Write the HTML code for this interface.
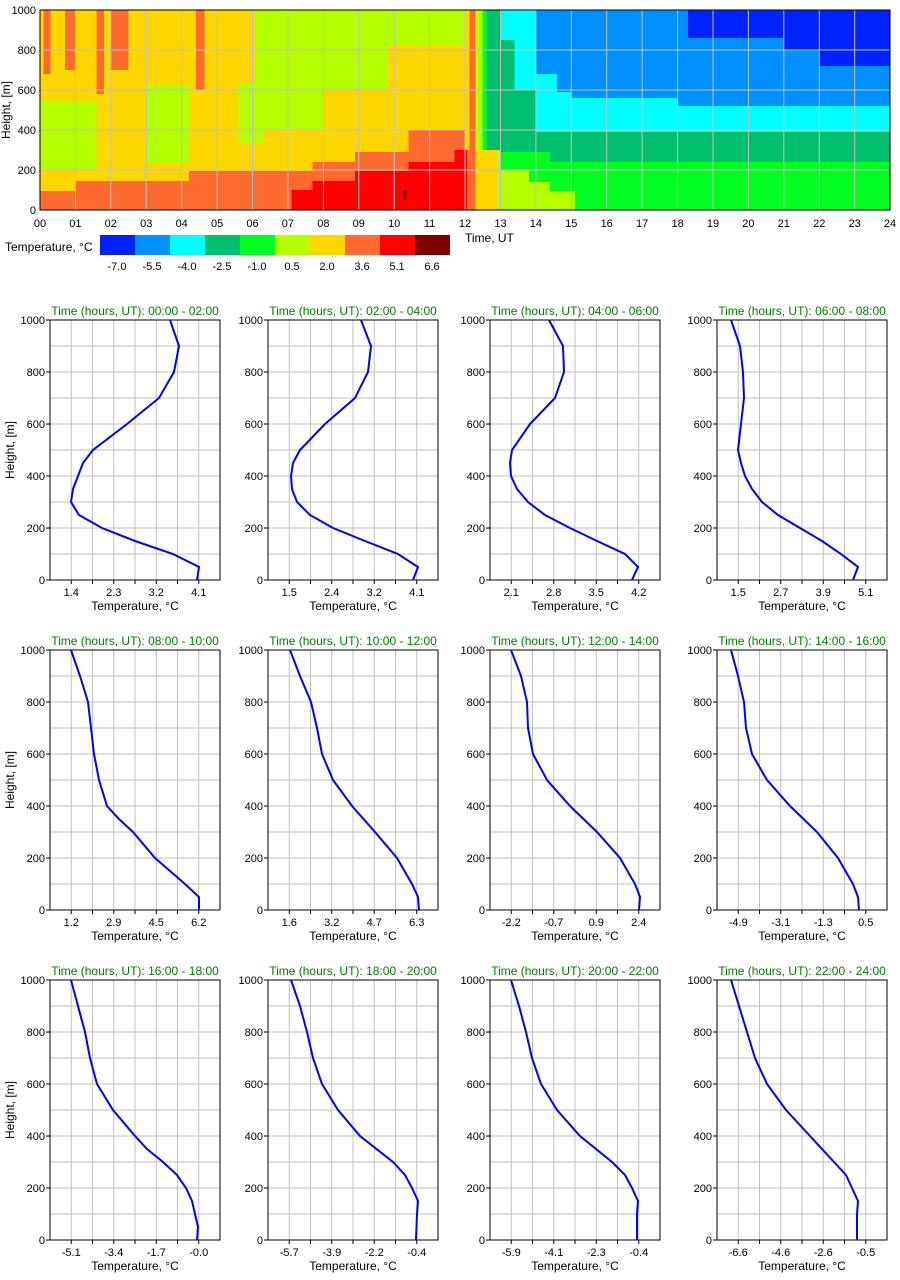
<!DOCTYPE html>
<html><head><meta charset="utf-8"><style>
html,body{margin:0;padding:0;background:#fff;}
svg{display:block;font-family:"Liberation Sans",sans-serif;}
.g{stroke:#c0c0c0;stroke-width:1;fill:none}
.t{font-size:11px;fill:#000}
.ttl{font-size:12px;fill:#008000}
</style></head><body>
<svg width="900" height="1280" viewBox="0 0 900 1280" xmlns="http://www.w3.org/2000/svg">
<g transform="translate(40,210) scale(35.4167,-0.2)" shape-rendering="crispEdges">
<rect x="0" y="0" width="24" height="1000" fill="#ffd700"/>
<rect x="0" y="200" width="1.6" height="340" fill="#b4ff00"/>
<rect x="3" y="230" width="1.2" height="390" fill="#b4ff00"/>
<rect x="5.6" y="330" width="0.7" height="300" fill="#b4ff00"/>
<rect x="6.1" y="400" width="1.9" height="600" fill="#b4ff00"/>
<rect x="8" y="600" width="1.8" height="400" fill="#b4ff00"/>
<rect x="9.8" y="820" width="2.2" height="180" fill="#b4ff00"/>
<rect x="0" y="0" width="1" height="95" fill="#ff6a30"/>
<rect x="1" y="0" width="3.2" height="145" fill="#ff6a30"/>
<rect x="4.2" y="0" width="3.5" height="195" fill="#ff6a30"/>
<rect x="7.7" y="0" width="1.2" height="240" fill="#ff6a30"/>
<rect x="8.9" y="0" width="1.5" height="290" fill="#ff6a30"/>
<rect x="10.4" y="0" width="1.6" height="400" fill="#ff6a30"/>
<rect x="0.1" y="680" width="0.2" height="320" fill="#ff6a30"/>
<rect x="0.7" y="700" width="0.3" height="300" fill="#ff6a30"/>
<rect x="1.6" y="580" width="0.2" height="420" fill="#ff6a30"/>
<rect x="2" y="700" width="0.5" height="300" fill="#ff6a30"/>
<rect x="4.4" y="600" width="0.25" height="400" fill="#ff6a30"/>
<rect x="7.1" y="0" width="0.6" height="100" fill="#ff0000"/>
<rect x="7.7" y="0" width="1.2" height="145" fill="#ff0000"/>
<rect x="8.9" y="0" width="1.5" height="195" fill="#ff0000"/>
<rect x="10.4" y="0" width="1.5" height="240" fill="#ff0000"/>
<rect x="11.7" y="0" width="0.3" height="300" fill="#ff0000"/>
<rect x="10.25" y="50" width="0.1" height="50" fill="#800000"/>
<rect x="12" y="0" width="0.3" height="1000" fill="#ff6a30"/>
<rect x="12" y="300" width="0.12" height="700" fill="#ffd700"/>
<rect x="12" y="0" width="0.05" height="300" fill="#ff0000"/>
<rect x="12.3" y="0" width="0.7" height="1000" fill="#b4ff00"/>
<rect x="12.3" y="0" width="0.6" height="300" fill="#ffd700"/>
<rect x="12.55" y="300" width="0.45" height="700" fill="#00c070"/>
<rect x="12.5" y="300" width="0.1" height="700" fill="#00ff20"/>
<rect x="13" y="0" width="11" height="300" fill="#00ff20"/>
<rect x="13" y="290" width="1.4" height="710" fill="#00c070"/>
<rect x="14.4" y="240" width="9.6" height="150" fill="#00c070"/>
<rect x="13" y="850" width="0.4" height="150" fill="#00ffff"/>
<rect x="13.4" y="600" width="0.6" height="400" fill="#00ffff"/>
<rect x="14" y="390" width="1" height="610" fill="#00ffff"/>
<rect x="15" y="390" width="9" height="170" fill="#00ffff"/>
<rect x="14" y="680" width="1" height="320" fill="#0090ff"/>
<rect x="14.6" y="590" width="0.4" height="410" fill="#0090ff"/>
<rect x="15" y="560" width="3" height="440" fill="#0090ff"/>
<rect x="18" y="520" width="6" height="480" fill="#0090ff"/>
<rect x="18.3" y="860" width="2.7" height="140" fill="#0022ff"/>
<rect x="21" y="800" width="1" height="200" fill="#0022ff"/>
<rect x="22" y="720" width="2" height="280" fill="#0022ff"/>
<rect x="12.9" y="0" width="0.9" height="200" fill="#b4ff00"/>
<rect x="13.8" y="0" width="0.6" height="140" fill="#b4ff00"/>
<rect x="14.4" y="0" width="0.7" height="95" fill="#b4ff00"/>
</g>
<g class="g">
<path d="M75.4 10V210M110.8 10V210M146.3 10V210M181.7 10V210M217.1 10V210M252.5 10V210M287.9 10V210M323.4 10V210M358.8 10V210M394.2 10V210M429.6 10V210M465 10V210M500.5 10V210M535.9 10V210M571.3 10V210M606.7 10V210M642.1 10V210M677.6 10V210M713 10V210M748.4 10V210M783.8 10V210M819.3 10V210M854.7 10V210M40 50H890M40 90H890M40 130H890M40 170H890"/>
</g>
<rect x="40" y="10" width="850" height="200" fill="none" stroke="#000"/>
<g class="t" text-anchor="end">
<text x="36" y="214">0</text><text x="36" y="174">200</text><text x="36" y="134">400</text><text x="36" y="94">600</text><text x="36" y="54">800</text><text x="36" y="14">1000</text>
</g>
<text transform="translate(10,110) rotate(-90)" text-anchor="middle" font-size="12">Height, [m]</text>
<g class="t" text-anchor="middle">
<text x="40" y="227">00</text><text x="75.4" y="227">01</text><text x="110.8" y="227">02</text><text x="146.3" y="227">03</text><text x="181.7" y="227">04</text><text x="217.1" y="227">05</text><text x="252.5" y="227">06</text><text x="287.9" y="227">07</text><text x="323.4" y="227">08</text><text x="358.8" y="227">09</text><text x="394.2" y="227">10</text><text x="429.6" y="227">11</text><text x="465" y="227">12</text><text x="500.5" y="227">13</text><text x="535.9" y="227">14</text><text x="571.3" y="227">15</text><text x="606.7" y="227">16</text><text x="642.1" y="227">17</text><text x="677.6" y="227">18</text><text x="713" y="227">19</text><text x="748.4" y="227">20</text><text x="783.8" y="227">21</text><text x="819.3" y="227">22</text><text x="854.7" y="227">23</text><text x="890" y="227">24</text>
</g>
<text x="465" y="242" font-size="12">Time, UT</text>
<text x="5" y="251" font-size="12">Temperature, °C</text>
<g shape-rendering="crispEdges">
<rect x="100" y="235" width="35" height="20" fill="#0022ff"/><rect x="135" y="235" width="35" height="20" fill="#0090ff"/><rect x="170" y="235" width="35" height="20" fill="#00ffff"/><rect x="205" y="235" width="35" height="20" fill="#00c070"/><rect x="240" y="235" width="35" height="20" fill="#00ff20"/><rect x="275" y="235" width="35" height="20" fill="#b4ff00"/><rect x="310" y="235" width="35" height="20" fill="#ffd700"/><rect x="345" y="235" width="35" height="20" fill="#ff6a30"/><rect x="380" y="235" width="35" height="20" fill="#ff0000"/><rect x="415" y="235" width="35" height="20" fill="#800000"/>
</g>
<g class="t" text-anchor="middle" font-size="12">
<text x="117" y="270">-7.0</text><text x="152" y="270">-5.5</text><text x="187" y="270">-4.0</text><text x="222" y="270">-2.5</text><text x="257" y="270">-1.0</text><text x="292" y="270">0.5</text><text x="327" y="270">2.0</text><text x="362" y="270">3.6</text><text x="397" y="270">5.1</text><text x="432" y="270">6.6</text>
</g>

<defs>
<g id="grid">
<path class="g" d="M21.25 0V260M42.5 0V260M63.75 0V260M85 0V260M106.25 0V260M127.5 0V260M148.75 0V260M0 26H170M0 52H170M0 78H170M0 104H170M0 130H170M0 156H170M0 182H170M0 208H170M0 234H170"/>
<rect x="0" y="0" width="170" height="260" fill="none" stroke="#000"/>
<path d="M21.25 260v4M63.75 260v4M106.25 260v4M148.75 260v4M42.5 260v4M85 260v4M127.5 260v4M0 260h-4M0 208h-4M0 156h-4M0 104h-4M0 52h-4M0 0h-4" stroke="#000"/>
<g class="t" text-anchor="end">
<text x="-5" y="264">0</text><text x="-5" y="212">200</text><text x="-5" y="160">400</text><text x="-5" y="108">600</text><text x="-5" y="56">800</text><text x="-5" y="4">1000</text>
</g>
<text x="85" y="290" text-anchor="middle" font-size="12">Temperature, °C</text>
</g>
</defs>

<g transform="translate(50,320)"><use href="#grid"/><text class="ttl" x="85" y="-5" text-anchor="middle">Time (hours, UT): 00:00 - 02:00</text>
<g class="t" text-anchor="middle"><text x="21.25" y="276">1.4</text><text x="63.75" y="276">2.3</text><text x="106.25" y="276">3.2</text><text x="148.75" y="276">4.1</text></g>
<polyline fill="none" stroke="#0000ff" stroke-width="2" points="120,0 129,26 124,52 109,78 77,104 43,130 33,143 23,169 21,182 29,195 52,208 85,221 123,234 149,247 147,260"/></g>
<g transform="translate(268,320)"><use href="#grid"/><text class="ttl" x="85" y="-5" text-anchor="middle">Time (hours, UT): 02:00 - 04:00</text>
<g class="t" text-anchor="middle"><text x="21.25" y="276">1.5</text><text x="63.75" y="276">2.4</text><text x="106.25" y="276">3.2</text><text x="148.75" y="276">4.1</text></g>
<polyline fill="none" stroke="#0000ff" stroke-width="2" points="93,0 103,26 100,52 87,78 57,104 32,130 25,143 23,156 24,169 29,182 42,195 65,208 97,221 130,234 150,247 145,260"/></g>
<g transform="translate(490,320)"><use href="#grid"/><text class="ttl" x="85" y="-5" text-anchor="middle">Time (hours, UT): 04:00 - 06:00</text>
<g class="t" text-anchor="middle"><text x="21.25" y="276">2.1</text><text x="63.75" y="276">2.8</text><text x="106.25" y="276">3.5</text><text x="148.75" y="276">4.2</text></g>
<polyline fill="none" stroke="#0000ff" stroke-width="2" points="59,0 73,26 74,52 65,78 40,104 22,130 20,143 21,156 27,169 38,182 55,195 80,208 107,221 135,234 148,247 142,260"/></g>
<g transform="translate(717,320)"><use href="#grid"/><text class="ttl" x="85" y="-5" text-anchor="middle">Time (hours, UT): 06:00 - 08:00</text>
<g class="t" text-anchor="middle"><text x="21.25" y="276">1.5</text><text x="63.75" y="276">2.7</text><text x="106.25" y="276">3.9</text><text x="148.75" y="276">5.1</text></g>
<polyline fill="none" stroke="#0000ff" stroke-width="2" points="14,0 23,26 26,52 27,78 24,104 21,130 24,143 28,156 35,169 45,182 61,195 83,208 105,221 124,234 141,247 136,260"/></g>

<g transform="translate(50,650)"><use href="#grid"/><text class="ttl" x="85" y="-5" text-anchor="middle">Time (hours, UT): 08:00 - 10:00</text>
<g class="t" text-anchor="middle"><text x="21.25" y="276">1.2</text><text x="63.75" y="276">2.9</text><text x="106.25" y="276">4.5</text><text x="148.75" y="276">6.2</text></g>
<polyline fill="none" stroke="#0000ff" stroke-width="2" points="21,0 30,26 38,52 41,78 44,104 49,130 57,156 69,169 83,182 105,208 135,234 149,247 149,260"/></g>
<g transform="translate(268,650)"><use href="#grid"/><text class="ttl" x="85" y="-5" text-anchor="middle">Time (hours, UT): 10:00 - 12:00</text>
<g class="t" text-anchor="middle"><text x="21.25" y="276">1.6</text><text x="63.75" y="276">3.2</text><text x="106.25" y="276">4.7</text><text x="148.75" y="276">6.3</text></g>
<polyline fill="none" stroke="#0000ff" stroke-width="2" points="22,0 32,26 43,52 49,78 54,104 65,130 84,156 107,182 129,208 144,234 150,247 151,260"/></g>
<g transform="translate(490,650)"><use href="#grid"/><text class="ttl" x="85" y="-5" text-anchor="middle">Time (hours, UT): 12:00 - 14:00</text>
<g class="t" text-anchor="middle"><text x="21.25" y="276">-2.2</text><text x="63.75" y="276">-0.7</text><text x="106.25" y="276">0.9</text><text x="148.75" y="276">2.4</text></g>
<polyline fill="none" stroke="#0000ff" stroke-width="2" points="21,0 31,26 37,52 38,78 43,104 57,130 80,156 107,182 130,208 145,234 150,247 149,260"/></g>
<g transform="translate(717,650)"><use href="#grid"/><text class="ttl" x="85" y="-5" text-anchor="middle">Time (hours, UT): 14:00 - 16:00</text>
<g class="t" text-anchor="middle"><text x="21.25" y="276">-4.9</text><text x="63.75" y="276">-3.1</text><text x="106.25" y="276">-1.3</text><text x="148.75" y="276">0.5</text></g>
<polyline fill="none" stroke="#0000ff" stroke-width="2" points="14,0 21,26 27,52 29,78 35,104 50,130 73,156 100,182 121,208 136,234 141,247 142,260"/></g>

<g transform="translate(50,980)"><use href="#grid"/><text class="ttl" x="85" y="-5" text-anchor="middle">Time (hours, UT): 16:00 - 18:00</text>
<g class="t" text-anchor="middle"><text x="21.25" y="276">-5.1</text><text x="63.75" y="276">-3.4</text><text x="106.25" y="276">-1.7</text><text x="148.75" y="276">-0.0</text></g>
<polyline fill="none" stroke="#0000ff" stroke-width="2" points="21,0 28,26 35,52 40,78 47,104 63,130 85,156 97,169 113,182 127,195 136,208 142,221 145,234 148,247 147,260"/></g>
<g transform="translate(268,980)"><use href="#grid"/><text class="ttl" x="85" y="-5" text-anchor="middle">Time (hours, UT): 18:00 - 20:00</text>
<g class="t" text-anchor="middle"><text x="21.25" y="276">-5.7</text><text x="63.75" y="276">-3.9</text><text x="106.25" y="276">-2.2</text><text x="148.75" y="276">-0.4</text></g>
<polyline fill="none" stroke="#0000ff" stroke-width="2" points="23,0 32,26 39,52 45,78 54,104 70,130 92,156 125,182 137,195 144,208 150,221 149,234 148,260"/></g>
<g transform="translate(490,980)"><use href="#grid"/><text class="ttl" x="85" y="-5" text-anchor="middle">Time (hours, UT): 20:00 - 22:00</text>
<g class="t" text-anchor="middle"><text x="21.25" y="276">-5.9</text><text x="63.75" y="276">-4.1</text><text x="106.25" y="276">-2.3</text><text x="148.75" y="276">-0.4</text></g>
<polyline fill="none" stroke="#0000ff" stroke-width="2" points="21,0 29,26 36,52 42,78 51,104 67,130 90,156 122,182 135,195 142,208 148,221 147,234 147,260"/></g>
<g transform="translate(717,980)"><use href="#grid"/><text class="ttl" x="85" y="-5" text-anchor="middle">Time (hours, UT): 22:00 - 24:00</text>
<g class="t" text-anchor="middle"><text x="21.25" y="276">-6.6</text><text x="63.75" y="276">-4.6</text><text x="106.25" y="276">-2.6</text><text x="148.75" y="276">-0.5</text></g>
<polyline fill="none" stroke="#0000ff" stroke-width="2" points="14,0 22,26 30,52 38,78 50,104 69,130 93,156 117,182 129,195 135,208 141,221 140,234 140,260"/></g>

<g font-size="12" text-anchor="middle">
<text transform="translate(14,450) rotate(-90)">Height, [m]</text>
<text transform="translate(14,780) rotate(-90)">Height, [m]</text>
<text transform="translate(14,1110) rotate(-90)">Height, [m]</text>
</g>
</svg>
</body></html>
